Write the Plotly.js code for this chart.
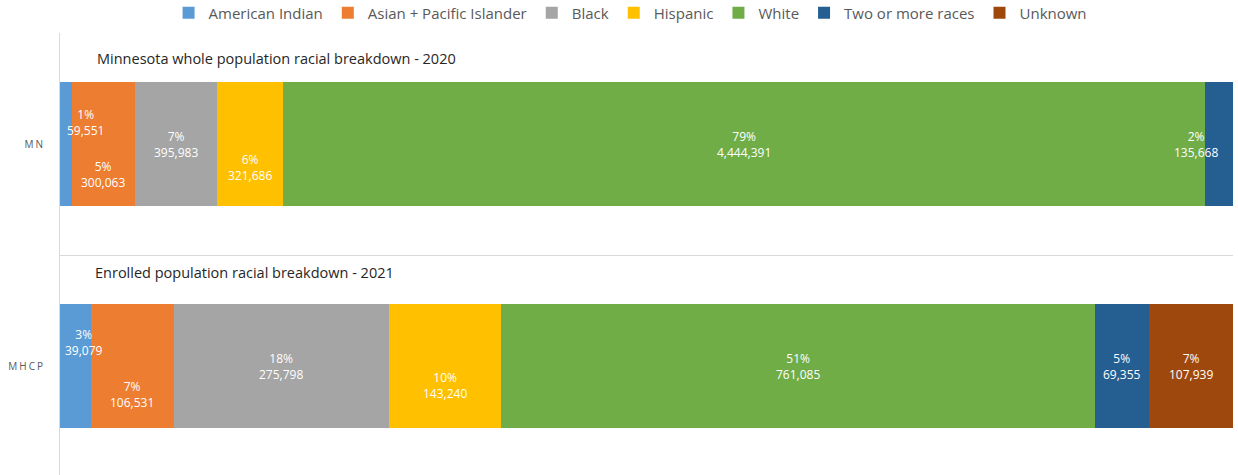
<!DOCTYPE html>
<html>
<head>
<meta charset="utf-8">
<script src="https://cdn.plot.ly/plotly-3.0.1.min.js"></script>
<style>
  html, body { margin: 0; padding: 0; background: #ffffff; }
  #chart { width: 1238px; height: 475px; }
  .ytick text { letter-spacing: 2px; }
</style>
</head>
<body>
<div id="chart"></div>
<script>
// ---- Data ----
const categories = ['MN', 'MHCP'];
const seriesNames = ['American Indian', 'Asian + Pacific Islander', 'Black', 'Hispanic', 'White', 'Two or more races', 'Unknown'];
const americanIndian = [59551, 39079];
const asianPacific   = [300063, 106531];
const black          = [395983, 275798];
const hispanic       = [321686, 143240];
const white          = [4444391, 761085];
const twoOrMore      = [135668, 69355];
const unknown        = [null, 107939];
const subtitles = ['Minnesota whole population racial breakdown - 2020', 'Enrolled population racial breakdown - 2021'];

// ---- Styles ----
const colors = ['#5B9BD5', '#ED7D31', '#A5A5A5', '#FFC000', '#70AD47', '#255E91', '#9E480E'];
const allSeries = [americanIndian, asianPacific, black, hispanic, white, twoOrMore, unknown];
const FONT = 'Open Sans, Noto Sans, sans-serif';

// label pixel offsets per [series][category] (layout tweak, Excel moved some labels)
const labelShift = [
  [[19, 22], [9, 24]],
  [[0, -30], [0, -28]],
  [[0, 0], [0, 0]],
  [[0, -23], [0, -19]],
  [[0, 0], [0, 0]],
  [[-23, 0], [0, 0]],
  [[0, 0], [0, 0]]
];

const traces = allSeries.map((vals, i) => ({
  type: 'bar',
  orientation: 'h',
  name: seriesNames[i],
  y: categories,
  x: vals,
  marker: { color: colors[i], line: { width: 0 } },
  width: 0.56,
  hoverinfo: 'x+name'
}));

// totals per category
const totals = categories.map((c, j) => allSeries.reduce((s, arr) => s + (arr[j] || 0), 0));

const annotations = [];
categories.forEach((cat, j) => {
  let cum = 0;
  allSeries.forEach((arr, i) => {
    const v = arr[j];
    if (v == null) return;
    const pct = v / totals[j] * 100;
    const mid = cum + pct / 2;
    cum += pct;
    annotations.push({
      x: mid, y: cat, xref: 'x', yref: 'y',
      text: Math.round(pct) + '%<br>' + v.toLocaleString('en-US'),
      showarrow: false,
      xshift: labelShift[i][j][0], yshift: labelShift[i][j][1],
      font: { family: FONT, size: 12, color: '#ffffff' },
      xanchor: 'center', yanchor: 'middle', align: 'center'
    });
  });
});

// subtitles
annotations.push({
  x: 0.0298, y: -0.383, xref: 'paper', yref: 'y',
  text: subtitles[0], showarrow: false, xanchor: 'left', yanchor: 'middle',
  font: { family: FONT, size: 14.5, color: '#262626' }
});
annotations.push({
  x: 0.0281, y: 0.581, xref: 'paper', yref: 'y',
  text: subtitles[1], showarrow: false, xanchor: 'left', yanchor: 'middle',
  font: { family: FONT, size: 14.5, color: '#262626' }
});

const layout = {
  width: 1238, height: 475,
  margin: { l: 60, r: 5, t: 33, b: 0, pad: 0, autoexpand: false },
  barmode: 'stack',
  barnorm: 'percent',
  paper_bgcolor: '#ffffff',
  plot_bgcolor: '#ffffff',
  showlegend: true,
  legend: {
    orientation: 'h',
    x: 0.486, xanchor: 'center',
    yref: 'paper', y: 1.045, yanchor: 'middle',
    font: { family: FONT, size: 15, color: '#595959' },
    traceorder: 'normal',
    bgcolor: 'rgba(0,0,0,0)'
  },
  xaxis: {
    range: [0, 100], autorange: false,
    showgrid: false, zeroline: false, showticklabels: false, showline: false, ticks: '',
    fixedrange: true
  },
  yaxis: {
    type: 'category',
    categoryorder: 'array', categoryarray: categories,
    range: [1.491, -0.5], autorange: false,
    tickson: 'boundaries',
    showgrid: true, gridcolor: '#d9d9d9', gridwidth: 1,
    showline: true, linecolor: '#d9d9d9', linewidth: 1,
    ticks: '', ticklabelstandoff: 12,
    tickfont: { family: FONT, size: 10, color: '#595959' },
    zeroline: false, fixedrange: true
  },
  annotations: annotations
};

Plotly.newPlot('chart', traces, layout, { displayModeBar: false, staticPlot: true });
</script>
</body>
</html>
